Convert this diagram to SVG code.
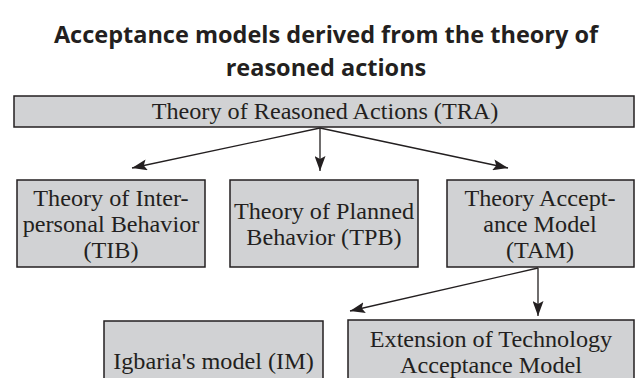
<svg xmlns="http://www.w3.org/2000/svg" width="636" height="378" viewBox="0 0 636 378">
<style>
.box{fill:#d1d2d4;stroke:#231f20;stroke-width:1.5}
.t{font-family:"Liberation Serif","Times New Roman",serif;font-size:23.5px;fill:#231f20;text-anchor:middle;transform-box:fill-box;transform-origin:center;transform:scaleX(1.03)}
.title{font-family:"Open Sans","Noto Sans",sans-serif;font-weight:700;font-size:23.5px;fill:#231f20;text-anchor:middle}
.c{stroke:#231f20;stroke-width:1.3;fill:none;marker-end:url(#ah)}
</style>
<defs>
<marker id="ah" markerUnits="userSpaceOnUse" viewBox="0 0 15 11" refX="15" refY="5.5" markerWidth="15" markerHeight="11" orient="auto">
<path d="M0,0 L15,5.5 L0,11 L3,5.5 z" fill="#231f20"/>
</marker>
</defs>
<rect width="636" height="378" fill="#fff"/>
<g id="title">
<text class="title" x="326" y="43">Acceptance models derived from the theory of</text>
<text class="title" x="326" y="76">reasoned actions</text>
</g>
<g id="connectors">
<line class="c" x1="320" y1="128" x2="132" y2="168"/>
<line class="c" x1="320" y1="128" x2="320" y2="171"/>
<line class="c" x1="320" y1="128" x2="508" y2="168"/>
<line class="c" x1="538" y1="268" x2="350" y2="311"/>
<line class="c" x1="538" y1="268" x2="538" y2="316"/>
</g>
<g id="tra">
<rect class="box" x="14" y="96" width="620" height="31"/>
<text class="t" x="325" y="119">Theory of Reasoned Actions (TRA)</text>
</g>
<g id="tib">
<rect class="box" x="17" y="180" width="188" height="87"/>
<text class="t" x="111" y="206">Theory of Inter-</text>
<text class="t" x="111" y="232">personal Behavior</text>
<text class="t" x="111" y="258">(TIB)</text>
</g>
<g id="tpb">
<rect class="box" x="230" y="180" width="188" height="87"/>
<text class="t" x="324" y="219">Theory of Planned</text>
<text class="t" x="324" y="245">Behavior (TPB)</text>
</g>
<g id="tam">
<rect class="box" x="447" y="180" width="187" height="87"/>
<text class="t" x="540" y="206">Theory Accept-</text>
<text class="t" x="540" y="232">ance Model</text>
<text class="t" x="540" y="258">(TAM)</text>
</g>
<g id="im">
<rect class="box" x="104" y="321" width="219" height="70"/>
<text class="t" x="213.5" y="369">Igbaria's model (IM)</text>
</g>
<g id="ext">
<rect class="box" x="348" y="320" width="286" height="70"/>
<text class="t" x="491" y="347">Extension of Technology</text>
<text class="t" x="491" y="373">Acceptance Model</text>
</g>
</svg>
